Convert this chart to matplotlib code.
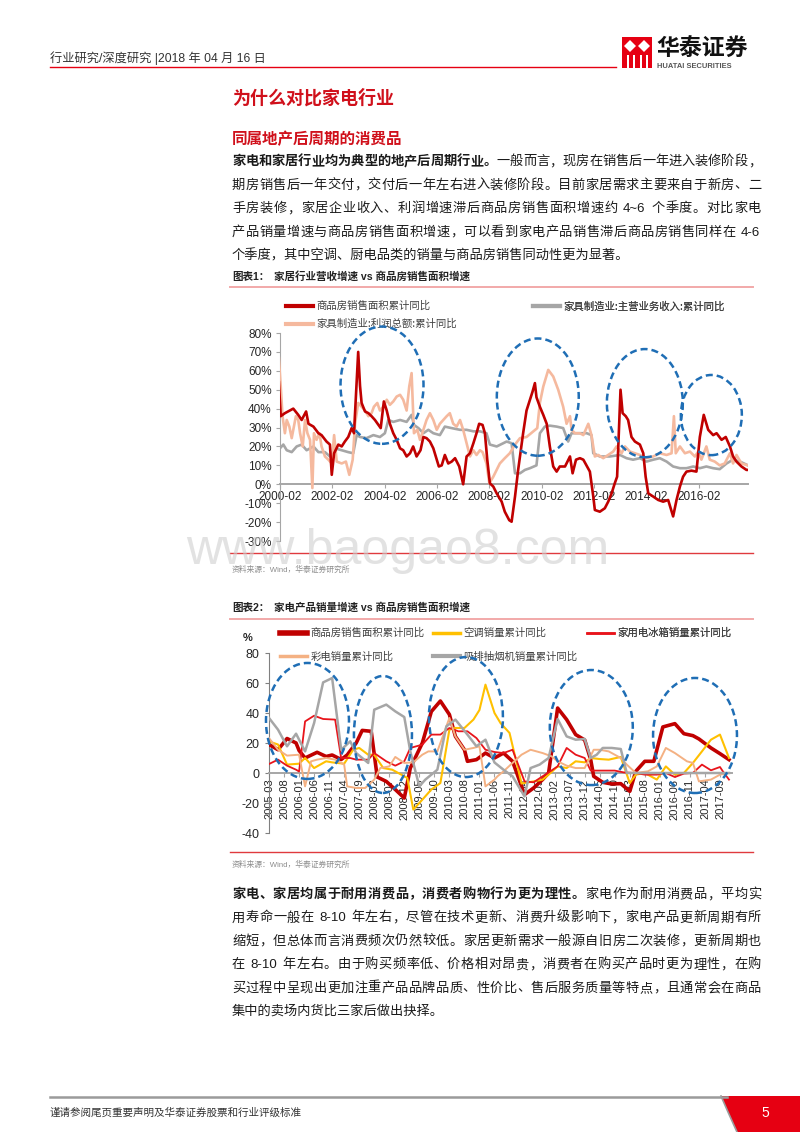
import matplotlib
matplotlib.use('Agg')
import matplotlib.pyplot as plt
from matplotlib.patches import Ellipse, Rectangle, Polygon
from matplotlib.lines import Line2D

CJK = 'Noto Sans CJK SC'
LAT = 'Liberation Sans'
plt.rcParams['font.family'] = [LAT, CJK]

W, H = 800, 1132
RED = '#E60012'
HEAD_RED = '#D0101B'
BLUE = '#1F6EB5'

# ---------------- chart 1 data (decimal year, %) ----------------
c1_area = [(2000.04, 54), (2000.11, 36), (2000.27, 37.6), (2000.46, 39), (2000.59, 40), (2000.78, 36.7),
           (2000.91, 34), (2001.08, 38.5), (2001.17, 32), (2001.36, 30.5), (2001.55, 27), (2001.67, 26),
           (2001.86, 22.6), (2001.99, 21), (2002.06, 5), (2002.15, 16.4), (2002.31, 21), (2002.44, 20),
           (2002.56, 22.6), (2002.69, 25), (2002.82, 29.7), (2002.91, 27), (2003.07, 70), (2003.14, 52),
           (2003.20, 43), (2003.33, 38.5), (2003.46, 37.6), (2003.58, 36), (2003.71, 34), (2003.84, 31.4),
           (2003.93, 29.7), (2004.05, 43.8), (2004.16, 39), (2004.28, 32), (2004.41, 27), (2004.54, 23.5),
           (2004.67, 19), (2004.79, 18), (2004.92, 14.7), (2005.05, 16.4), (2005.17, 20), (2005.30, 14.7),
           (2005.45, 18), (2005.56, 25), (2005.68, 24.4), (2005.81, 22.6), (2005.94, 19), (2006.07, 13),
           (2006.15, 9.4), (2006.26, 10), (2006.38, 15.5), (2006.51, 11), (2006.64, 12), (2006.77, 13.8),
           (2006.93, 9.4), (2007.08, 0), (2007.21, 14.7), (2007.34, 16.4), (2007.47, 21.7), (2007.59, 27),
           (2007.69, 32), (2007.82, 31.4), (2007.91, 27), (2008.00, 13), (2008.10, 0.5), (2008.23, -1.2),
           (2008.36, -4.8), (2008.55, -9.2), (2008.67, -14.5), (2008.84, -19), (2008.93, -19.8),
           (2009.06, -6.5), (2009.18, 7.6), (2009.37, 27), (2009.50, 39), (2009.63, 44.7), (2009.73, 49),
           (2009.82, 53.5), (2009.88, 46), (2010.01, 41), (2010.14, 36.7), (2010.27, 32), (2010.39, 20),
           (2010.52, 9.4), (2010.65, 6.7), (2010.77, 9.4), (2010.97, 9.4), (2011.16, 14.7), (2011.26, 5.8),
           (2011.39, 13), (2011.54, 13.8), (2011.67, 13), (2011.79, 10), (2011.92, 6.7), (2012.05, -6.5),
           (2012.11, -13.6), (2012.30, -14.5), (2012.49, -12.7), (2012.62, -9.2), (2012.75, -4.8),
           (2012.87, 0.5), (2012.96, 4), (2013.09, 50), (2013.17, 37.6), (2013.29, 36), (2013.38, 34),
           (2013.51, 25), (2013.64, 22.6), (2013.83, 21), (2013.96, 16.4), (2014.05, 4), (2014.15, -4.8),
           (2014.34, -6.5), (2014.53, -8.3), (2014.72, -9.2), (2014.91, -8.3), (2015.10, -17),
           (2015.23, -8.3), (2015.36, -1.2), (2015.48, 4), (2015.61, 6.7), (2015.80, 7.2), (2015.99, 6.7),
           (2016.12, 25), (2016.27, 36.7), (2016.44, 28.8), (2016.63, 26), (2016.76, 27), (2016.95, 23.5),
           (2017.11, 25), (2017.27, 20), (2017.39, 14.7), (2017.52, 12), (2017.71, 9.4), (2017.90, 7.6),
           (2017.96, 7.6)]

c1_revenue = [(2000.08, 19), (2000.21, 21), (2000.34, 18), (2000.53, 17), (2000.72, 20), (2000.91, 21),
              (2001.10, 18), (2001.36, 20), (2001.55, 17), (2001.80, 17), (2001.99, 14.7), (2002.18, 19),
              (2002.44, 18), (2002.69, 17), (2002.88, 16.4), (2003.01, 26), (2003.14, 25), (2003.39, 24.4),
              (2003.65, 26), (2003.90, 25), (2004.09, 27), (2004.22, 34), (2004.41, 33), (2004.67, 34),
              (2004.92, 33), (2005.11, 36.7), (2005.20, 31.4), (2005.37, 29.7), (2005.56, 27), (2005.75, 28.8),
              (2005.94, 27), (2006.19, 26), (2006.38, 30.5), (2006.64, 29.7), (2006.96, 28.8), (2007.21, 28.8),
              (2007.47, 28), (2007.72, 28), (2007.97, 27), (2008.10, 21), (2008.36, 20), (2008.61, 21.7),
              (2008.74, 22.6), (2008.93, 21.7), (2009.06, 5.8), (2009.25, 5.8), (2009.44, 7.6), (2009.63, 8.5),
              (2009.88, 10), (2010.01, 27), (2010.20, 30.5), (2010.39, 31), (2010.65, 30.5), (2010.90, 29.7),
              (2011.09, 22.6), (2011.22, 27), (2011.50, 27), (2011.80, 27), (2011.98, 26), (2012.05, 16.4),
              (2012.30, 14.7), (2012.68, 14.7), (2013.07, 15.5), (2013.32, 13.8), (2013.57, 13), (2013.83, 13.8),
              (2014.08, 12), (2014.34, 13), (2014.59, 13.8), (2014.85, 12), (2015.10, 9.4), (2015.36, 8.5),
              (2015.61, 8.5), (2015.87, 9.4), (2016.12, 8.5), (2016.37, 9.4), (2016.63, 8.5), (2016.88, 8),
              (2017.14, 11), (2017.39, 13), (2017.65, 12), (2017.96, 10)]

c1_profit = [(2000.04, 66.8), (2000.11, 52), (2000.18, 36), (2000.27, 27), (2000.34, 34), (2000.44, 30.5),
             (2000.53, 24.4), (2000.59, 28.8), (2000.69, 36), (2000.78, 34), (2000.85, 27), (2000.95, 20),
             (2001.04, 34), (2001.13, 27), (2001.23, 23.5), (2001.32, -2), (2001.38, 27), (2001.48, 23.5),
             (2001.59, 27), (2001.67, 20), (2001.80, 14.7), (2001.93, 13), (2002.06, 11), (2002.15, 26),
             (2002.25, 12), (2002.44, 11), (2002.60, 12), (2002.73, 5), (2002.86, 13), (2002.95, 32),
             (2003.07, 43), (2003.20, 41), (2003.33, 39), (2003.46, 36), (2003.58, 37.6), (2003.67, 41),
             (2003.80, 43), (2003.90, 39), (2004.03, 41), (2004.16, 44.7), (2004.28, 42), (2004.41, 43.8),
             (2004.54, 46.4), (2004.67, 47.3), (2004.79, 44.7), (2004.92, 39), (2005.02, 51.7), (2005.11, 58.8),
             (2005.20, 27), (2005.33, 28.8), (2005.43, 23.5), (2005.56, 28.8), (2005.68, 34), (2005.81, 37.6),
             (2005.94, 34), (2006.07, 28.8), (2006.19, 32), (2006.32, 34), (2006.45, 36), (2006.57, 37.6),
             (2006.70, 32), (2006.83, 30.5), (2006.96, 34), (2007.08, 28.8), (2007.21, 21.7), (2007.34, 14.7),
             (2007.47, 18), (2007.59, 15.5), (2007.72, 18), (2007.82, 17), (2007.97, 11), (2008.08, 0.5),
             (2008.23, 4), (2008.48, 11), (2008.67, 13.8), (2008.86, 16.4), (2009.06, 21), (2009.25, 24.4),
             (2009.50, 25), (2009.76, 28), (2009.91, 29.7), (2010.01, 43), (2010.14, 51.7), (2010.33, 60.5),
             (2010.52, 57), (2010.71, 50), (2010.90, 41), (2011.03, 32), (2011.16, 36), (2011.22, 28.8),
             (2011.35, 27), (2011.54, 27), (2011.67, 26), (2011.86, 32), (2011.98, 26), (2012.11, 14.7),
             (2012.24, 15.5), (2012.43, 13.8), (2012.62, 15.5), (2012.81, 17.3), (2012.94, 20), (2013.13, 16.4),
             (2013.26, 20), (2013.45, 17.3), (2013.64, 16.4), (2013.83, 15.5), (2014.08, 13.8), (2014.34, 14.7),
             (2014.59, 16.4), (2014.85, 15.5), (2015.04, 16.4), (2015.13, 36), (2015.20, 16.4), (2015.36, 20),
             (2015.55, 16.4), (2015.74, 17.3), (2015.93, 14.7), (2016.06, 17.3), (2016.18, 13), (2016.37, 20),
             (2016.50, 13), (2016.69, 12), (2016.88, 10), (2017.07, 11), (2017.27, 16.4), (2017.39, 11),
             (2017.52, 15.5), (2017.71, 11), (2017.96, 10)]

c1_names = ['商品房销售面积累计同比', '家具制造业:利润总额:累计同比', '家具制造业:主营业务收入:累计同比']
c1_xticks = [f'{y}-02' for y in range(2000, 2017, 2)]
c1_yticks = list(range(-30, 81, 10))
# highlighted periods: (centre year, centre %, width in years, height in %)
c1_circles = [(2003.98, 52.4, 3.17, 62), (2009.93, 46.1, 3.13, 62),
              (2014.02, 42.9, 2.90, 57.2), (2016.56, 36.6, 2.33, 42.4)]

# ---------------- chart 2 data (month, %) ----------------
c2_house = [("2005-03", 19), ("2005-06", 15.5), ("2005-09", 23), ("2005-12", 20), ("2006-01", 15), ("2006-03", 10),
            ("2006-07", 13.8), ("2006-10", 11), ("2006-12", 12), ("2007-03", 9), ("2007-05", 12), ("2007-08", 20),
            ("2007-10", 28.4), ("2008-01", 27.8), ("2008-03", -2.7), ("2008-06", -5.6), ("2008-09", -11),
            ("2008-12", -16.7), ("2009-02", 3.3), ("2009-06", 20), ("2009-09", 41), ("2009-12", 48),
            ("2010-03", 39), ("2010-05", 24.4), ("2010-08", 15.5), ("2010-09", 7.8), ("2010-12", 8.9),
            ("2011-03", 13.3), ("2011-06", 10), ("2011-09", 13.3), ("2011-12", 7.8), ("2012-04", -14.4),
            ("2012-07", -10), ("2012-10", -4.4), ("2012-12", 0), ("2013-03", 43.3), ("2013-06", 35.6),
            ("2013-09", 25.6), ("2013-12", 22), ("2014-02", 8.9), ("2014-03", -2.2), ("2014-06", -6.2),
            ("2014-09", -7.3), ("2014-12", -7.1), ("2015-03", -12.2), ("2015-05", 1.1), ("2015-08", 7.8),
            ("2015-11", 7.8), ("2016-02", 30.7), ("2016-06", 32.9), ("2016-09", 26.2), ("2016-12", 24.9),
            ("2017-02", 22.7), ("2017-06", 16.7), ("2017-09", 12.9), ("2017-12", 8.9)]

c2_ac = [("2005-03", 21), ("2005-06", 19), ("2005-09", 5.6), ("2006-01", 6.2), ("2006-03", 10), ("2006-06", 3.3),
         ("2006-10", 7.8), ("2006-12", 7.1), ("2007-04", 6.2), ("2007-07", 15.5), ("2007-09", 16.7),
         ("2007-12", 12.2), ("2008-02", 12.2), ("2008-05", 3.3), ("2008-08", 2.2), ("2008-11", -1.1),
         ("2009-01", -3.3), ("2009-03", -24.4), ("2009-06", -17.8), ("2009-09", -11), ("2009-12", -6.7),
         ("2010-03", 28.9), ("2010-05", 30), ("2010-08", 30), ("2010-11", 35.6), ("2011-01", 42),
         ("2011-03", 58.9), ("2011-06", 40), ("2011-08", 33.3), ("2011-11", 26.7), ("2012-03", -7),
         ("2012-07", -5.6), ("2012-10", -4.4), ("2012-12", -1.1), ("2013-03", 4.4), ("2013-06", 3.3),
         ("2013-09", 7.8), ("2013-12", 7.1), ("2014-02", 10), ("2014-05", 9.3), ("2014-08", 8.9),
         ("2014-12", 10.7), ("2015-03", -6.7), ("2015-05", -1.1), ("2015-08", 0), ("2015-12", -4.4),
         ("2016-03", 4.4), ("2016-06", -1.1), ("2016-09", 0), ("2016-12", 6.7), ("2017-03", 14.4),
         ("2017-06", 22.2), ("2017-09", 25.6), ("2017-12", 10)]

c2_fridge = [("2005-03", 6), ("2005-06", 8.9), ("2005-09", 4.9), ("2005-12", 2.2), ("2006-01", 1), ("2006-03", 34.4),
             ("2006-06", 38.2), ("2006-09", 36), ("2007-01", 35.6), ("2007-03", 10), ("2007-06", 10),
             ("2007-08", 8.9), ("2007-12", 8.9), ("2008-02", 13.3), ("2008-06", 7.8), ("2008-09", 4.9),
             ("2008-12", 7.8), ("2009-02", 16.7), ("2009-06", 18.9), ("2009-09", 25.6), ("2009-12", 25.6),
             ("2010-03", 30), ("2010-06", 27.8), ("2010-09", 27.8), ("2010-12", 23.3), ("2011-03", 15.5),
             ("2011-06", 14), ("2011-09", 13.3), ("2011-12", 15.5), ("2012-04", -5.6), ("2012-07", -6.2),
             ("2012-10", -2.2), ("2012-12", 0.4), ("2013-03", 4.4), ("2013-06", 16.7), ("2013-09", 12.2),
             ("2013-12", 10), ("2014-02", 1.6), ("2014-06", 1.6), ("2014-10", 1.6), ("2015-01", 0.4),
             ("2015-05", 0), ("2015-08", -1.1), ("2015-12", -1.1), ("2016-03", 0), ("2016-06", -2.7),
             ("2016-09", -0.4), ("2016-12", 0), ("2017-03", 5.6), ("2017-06", 1.8), ("2017-09", 4),
             ("2017-10", 1), ("2017-12", -4.4)]

c2_tv = [("2005-03", 23.3), ("2005-06", 15.5), ("2005-09", 11.6), ("2006-01", 12.2), ("2006-03", -8.9),
         ("2006-05", 7.8), ("2006-07", 8.9), ("2006-10", 10), ("2007-01", 8.9), ("2007-04", 5.6),
         ("2007-05", -8.9), ("2007-08", -10), ("2007-11", -10), ("2008-02", -4.4), ("2008-04", 3.3),
         ("2008-07", 4.4), ("2008-09", 10.7), ("2008-12", 6.7), ("2009-03", 7.1), ("2009-06", 12.2),
         ("2009-08", 14.4), ("2009-11", 14.4), ("2010-02", 31.1), ("2010-03", 36.7), ("2010-05", 24.4),
         ("2010-08", 15.5), ("2010-11", 16.7), ("2011-01", 17.8), ("2011-03", -8.9), ("2011-06", -4.4),
         ("2011-07", -2.2), ("2011-09", 1.1), ("2011-12", 6.7), ("2012-03", 12.2), ("2012-06", 15.5),
         ("2012-10", 13.3), ("2013-01", 11.1), ("2013-03", 7.8), ("2013-06", 4.9), ("2013-09", 3.3),
         ("2013-12", 3.3), ("2014-03", 15.5), ("2014-05", 15.5), ("2014-08", 14.4), ("2014-12", 10),
         ("2015-02", 5.6), ("2015-05", 0), ("2015-09", 1.1), ("2015-12", 4.4), ("2016-03", 16.7),
         ("2016-06", 13.3), ("2016-10", 7.8), ("2016-12", 6.7), ("2017-02", -5.6), ("2017-06", -4.4),
         ("2017-09", -1.1), ("2017-12", 0)]

c2_hood = [("2005-03", 36.7), ("2005-06", 28.9), ("2005-09", 17.8), ("2005-12", 26.2), ("2006-03", 14.4),
           ("2006-06", 33.3), ("2006-09", 60.4), ("2006-12", 63.3), ("2007-03", 15.5), ("2007-06", 21.1),
           ("2007-08", 13.3), ("2007-12", 6.7), ("2008-02", 42.2), ("2008-06", 45.6), ("2008-09", 41.1),
           ("2008-12", 37.3), ("2009-02", 14.4), ("2009-05", -8.9), ("2009-07", -4.4), ("2009-11", 2.2),
           ("2010-02", 31.1), ("2010-05", 35.6), ("2010-09", 25.6), ("2010-12", 17.8), ("2011-03", 22.2),
           ("2011-06", 7), ("2011-09", 2.2), ("2011-12", -2.2), ("2012-04", -15.6), ("2012-06", 3.3),
           ("2012-09", 5.6), ("2012-12", 10), ("2013-03", 36), ("2013-06", 24.4), ("2013-09", 22.2),
           ("2013-12", 22.7), ("2014-02", 10), ("2014-04", 12.2), ("2014-06", 16.7), ("2014-09", 16.7),
           ("2014-12", 16), ("2015-02", 0), ("2017-12", 0)]

c2_names = ['商品房销售面积累计同比', '空调销量累计同比', '家用电冰箱销量累计同比', '彩电销量累计同比', '吸排抽烟机销量累计同比']
c2_yticks = list(range(-40, 81, 20))
# highlighted periods: (centre month index, centre %, width in months, height in %)
c2_circles = [(12.8, 34.7, 27.6, 77.3), (37.9, 25.7, 19.3, 78), (65.5, 37.3, 24.6, 80),
              (107.2, 30.3, 27.6, 76.7), (141.7, 25.0, 27.9, 76.7)]

para1 = [
    [("家电和家居行业均为典型的地产后周期行业。", 'bold'), ("一般而言，现房在销售后一年进入装修阶段，", 'normal')],
    [("期房销售后一年交付，交付后一年左右进入装修阶段。目前家居需求主要来自于新房、二", 'normal')],
    [("手房装修，家居企业收入、利润增速滞后商品房销售面积增速约 4~6 个季度。对比家电", 'normal')],
    [("产品销量增速与商品房销售面积增速，可以看到家电产品销售滞后商品房销售同样在 4-6", 'normal')],
    [("个季度，其中空调、厨电品类的销量与商品房销售同动性更为显著。", 'normal')],
]
para2 = [
    [("家电、家居均属于耐用消费品，消费者购物行为更为理性。", 'bold'), ("家电作为耐用消费品，平均实", 'normal')],
    [("用寿命一般在 8-10 年左右，尽管在技术更新、消费升级影响下，家电产品更新周期有所", 'normal')],
    [("缩短，但总体而言消费频次仍然较低。家居更新需求一般源自旧房二次装修，更新周期也", 'normal')],
    [("在 8-10 年左右。由于购买频率低、价格相对昂贵，消费者在购买产品时更为理性，在购", 'normal')],
    [("买过程中呈现出更加注重产品品牌品质、性价比、售后服务质量等特点，且通常会在商品", 'normal')],
    [("集中的卖场内货比三家后做出抉择。", 'normal')],
]


def month_index(s):
    return (int(s[:4]) - 2005) * 12 + int(s[5:7]) - 3


def month_label(i):
    return f'{2005 + (i + 2) // 12}-{(i + 2) % 12 + 1:02d}'


fig = plt.figure(figsize=(8, 11.32), dpi=100)
renderer = fig.canvas.get_renderer()


def fx(x):
    return x / W


def fy(y):
    return 1 - y / H


def box(l, t, r, b):
    return [l / W, 1 - b / H, (r - l) / W, (b - t) / H]


def hline(x0, x1, y, color, lw):
    fig.add_artist(Line2D([fx(x0), fx(x1)], [fy(y), fy(y)], transform=fig.transFigure, color=color, lw=lw))


def poly(pts, color, **kw):
    fig.add_artist(Polygon([(fx(a), fy(b)) for a, b in pts], closed=True, transform=fig.transFigure,
                           facecolor=color, edgecolor='none', **kw))


def plain(x, y, s, size, color='#1a1a1a', weight='normal'):
    # single mixed-script text, vertically centred on y (pixels from top)
    px = size * 100 / 72
    fig.text(fx(x), fy(y + 0.38 * px), s, fontsize=size, weight=weight, family=[LAT, CJK],
             color=color, va='baseline')


def justified(y, parts, x0, x1, size=9.5, color='#1a1a1a'):
    # lays out one line of mixed CJK / latin text, justified between x0 and x1
    px = size * 100 / 72
    toks = []
    for s, wt in parts:
        buf = ''
        for ch in s:
            if ch == ' ' or ord(ch) >= 128:
                if buf:
                    toks.append((buf, wt, LAT))
                    buf = ''
                toks.append((None if ch == ' ' else ch, wt, CJK))
            else:
                buf += ch
        if buf:
            toks.append((buf, wt, LAT))
    items = []
    for t, wt, fam in toks:
        if t is None:
            items.append((None, px * 0.28, 0))
            continue
        o = fig.text(0, fy(y + 0.38 * px), t, fontsize=size, weight=wt, family=fam, color=color, va='baseline')
        if fam == CJK:
            items.append((o, px, 0))
        else:
            items.append((o, o.get_window_extent(renderer).width + 0.12 * px, 0.06 * px))
    total = sum(w for _, w, _ in items)
    gap = (x1 - x0 - total) / max(len(items) - 1, 1)
    x = x0
    for o, w, off in items:
        if o is not None:
            o.set_x(fx(x + off))
        x += w + gap


def paragraph(lines, y0, step):
    for i, parts in enumerate(lines):
        yy = y0 + i * step
        if i == len(lines) - 1:
            plain(232, yy, ''.join(s for s, _ in parts), 9.5, weight=parts[0][1])
        else:
            justified(yy, parts, 232, 761)


# ---------------- page header ----------------
plain(50, 57, '行业研究/深度研究 |2018 年 04 月 16 日', 8.8, color='#333333')
hline(50, 616, 67, RED, 1.0)
fig.add_artist(Rectangle((fx(622), fy(68)), 30 / W, 31 / H, transform=fig.transFigure, color=RED, lw=0))
poly([(624, 46), (630, 40), (636, 46), (630, 52)], 'white')
poly([(638, 46), (644, 40), (650, 46), (644, 52)], 'white')
for bx in (627, 633, 640, 646):
    poly([(bx, 55), (bx + 2, 55), (bx + 2, 68), (bx, 68)], 'white')
fig.text(fx(656), fy(49), '华泰证券', family=CJK, weight='bold', fontsize=16.5, va='center', color='#111111')
fig.text(fx(657), fy(66), 'HUATAI SECURITIES', family=LAT, weight='bold', fontsize=5.4, va='center', color='#555555')

fig.text(fx(232), fy(98), '为什么对比家电行业', family=CJK, weight='bold', fontsize=13, va='center', color=HEAD_RED)
fig.text(fx(232), fy(139), '同属地产后周期的消费品', family=CJK, weight='bold', fontsize=11.2, va='center', color=HEAD_RED)
paragraph(para1, 160, 23.5)

# ---------------- chart 1 ----------------
plain(232, 276, '图表1：', 7.6, color='#222222', weight='bold')
plain(274, 276, '家居行业营收增速 vs 商品房销售面积增速', 7.6, color='#222222', weight='bold')
hline(230, 753, 287, '#F2A9A9', 1.4)

ax1 = fig.add_axes(box(280, 333, 748, 541))
ax1.patch.set_alpha(0)
x, y = zip(*c1_revenue)
ax1.plot(x, y, color='#A6A6A6', lw=1.9, zorder=2)
x, y = zip(*c1_profit)
ax1.plot(x, y, color='#F5B99E', lw=1.9, zorder=3)
x, y = zip(*c1_area)
ax1.plot(x, y, color='#C00000', lw=1.9, zorder=4)
ax1.set_xlim(2000.083, 2017.96)
ax1.set_ylim(-30, 80)
for s in ('top', 'right'):
    ax1.spines[s].set_visible(False)
ax1.spines['bottom'].set_position(('data', 0))
ax1.spines['bottom'].set_color('#A6A6A6')
ax1.spines['bottom'].set_linewidth(1.4)
ax1.spines['left'].set_color('#A6A6A6')
ax1.set_yticks(c1_yticks, labels=[f'{v}%' for v in c1_yticks])
ax1.set_xticks([2000.083 + 2 * k for k in range(len(c1_xticks))], labels=c1_xticks)
ax1.tick_params(axis='y', length=3, width=0.8, color='#A6A6A6', pad=3, labelsize=8.5, labelcolor='#262626')
ax1.tick_params(axis='x', length=3, width=0.8, color='#A6A6A6', pad=1.5, labelsize=8.5, labelcolor='#262626')
for cx, cy, w, h in c1_circles:
    ax1.add_patch(Ellipse((cx, cy), w, h, fill=False, ec=BLUE, lw=1.8, ls=(0, (2.8, 1.6)), clip_on=False, zorder=6))


def legend_col(ax, handles, labels, x, y, spacing):
    lg = ax.legend(handles, labels, loc='upper left', bbox_to_anchor=(fx(x), fy(y)),
                   bbox_transform=fig.transFigure, frameon=False, borderpad=0, borderaxespad=0,
                   handlelength=2.6, handletextpad=0.3, labelspacing=spacing,
                   prop={'family': CJK, 'size': 7.5}, labelcolor='#404040')
    ax.add_artist(lg)


h_area = Line2D([], [], color='#C00000', lw=3)
h_pro = Line2D([], [], color='#F5B99E', lw=3)
h_rev = Line2D([], [], color='#A6A6A6', lw=3)
legend_col(ax1, [h_area, h_pro], c1_names[:2], 286, 301, 0.75)
legend_col(ax1, [h_rev], c1_names[2:], 533, 301, 0.75)

hline(230, 753, 553, '#E03A3E', 1.0)
plain(232, 569, '资料来源：Wind，华泰证券研究所', 5.6, color='#8c8c8c')
fig.text(fx(186), fy(564), 'www.baogao8.com', family=LAT, fontsize=36, color='#cfcfcf', alpha=0.6, va='baseline', zorder=10)

# ---------------- chart 2 ----------------
plain(232, 607, '图表2：', 7.6, color='#222222', weight='bold')
plain(274, 607, '家电产品销量增速 vs 商品房销售面积增速', 7.6, color='#222222', weight='bold')
hline(230, 753, 619, '#F2A9A9', 1.4)

ax2 = fig.add_axes(box(269, 653, 732, 833))
ax2.patch.set_alpha(0)
styles = [('#C00000', 2.6), ('#FFC000', 1.5), ('#E8141B', 1.3), ('#F4B183', 1.4), ('#A6A6A6', 1.8)]
for series, (col, lw) in zip([c2_house, c2_ac, c2_fridge, c2_tv, c2_hood], styles):
    ax2.plot([month_index(m) for m, _ in series], [v for _, v in series], color=col, lw=lw, zorder=3)
ax2.set_xlim(0, 154)
ax2.set_ylim(-40, 80)
for s in ('top', 'right'):
    ax2.spines[s].set_visible(False)
ax2.spines['bottom'].set_position(('data', 0))
ax2.spines['bottom'].set_color('#A6A6A6')
ax2.spines['bottom'].set_linewidth(1.4)
ax2.spines['left'].set_color('#808080')
ax2.set_yticks(c2_yticks, labels=[str(v) for v in c2_yticks])
ticks2 = list(range(0, 151, 5))
ax2.set_xticks(ticks2, labels=[month_label(i) for i in ticks2], rotation=90)
ax2.tick_params(axis='y', length=3, width=0.8, color='#808080', pad=4, labelsize=9, labelcolor='#262626')
ax2.tick_params(axis='x', length=3, width=0.8, color='#A6A6A6', pad=1, labelsize=8, labelcolor='#262626')
for cx, cy, w, h in c2_circles:
    ax2.add_patch(Ellipse((cx, cy), w, h, fill=False, ec=BLUE, lw=1.8, ls=(0, (2.8, 1.6)), clip_on=False, zorder=6))

fig.text(fx(243), fy(638), '%', family=LAT, weight='bold', fontsize=8, va='center', color='#262626')
hs = [Line2D([], [], color=c, lw=lw) for c, lw in [('#C00000', 4), ('#FFC000', 2.5), ('#E8141B', 1.8),
                                                    ('#F4B183', 2.5), ('#A6A6A6', 3)]]
legend_col(ax2, [hs[0], hs[3]], [c2_names[0], c2_names[3]], 280, 628, 1.25)
legend_col(ax2, [hs[1], hs[4]], [c2_names[1], c2_names[4]], 433, 628, 1.25)
legend_col(ax2, [hs[2]], [c2_names[2]], 587, 628, 1.25)

hline(230, 753, 852, '#E03A3E', 1.0)
plain(232, 864, '资料来源：Wind，华泰证券研究所', 5.6, color='#8c8c8c')

paragraph(para2, 893, 23.4)

# ---------------- footer ----------------
hline(50, 727, 1097, '#9b9b9b', 1.8)
poly([(721, 1096), (800, 1096), (800, 1132), (737, 1132), (728, 1112)], RED)
fig.add_artist(Line2D([fx(721), fx(728), fx(737)], [fy(1096), fy(1112), fy(1132)], transform=fig.transFigure,
                      color='#9b9b9b', lw=1.2))
fig.text(fx(765), fy(1113), '5', family=LAT, fontsize=10, color='white', va='center', ha='center')
plain(50, 1112, '谨请参阅尾页重要声明及华泰证券股票和行业评级标准', 7.6, color='#333333')

fig.savefig('out.png', dpi=100)
